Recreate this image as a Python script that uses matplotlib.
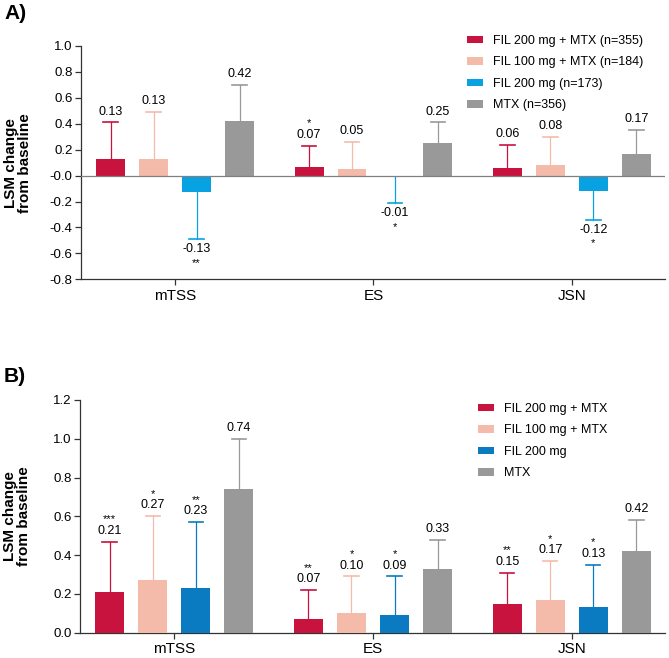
import matplotlib
matplotlib.use("Agg")
import matplotlib.pyplot as plt
from matplotlib.patches import Patch
import numpy as np

plt.rcParams['font.family'] = ['Liberation Sans', 'DejaVu Sans']
plt.rcParams['axes.unicode_minus'] = False

categories = ["mTSS", "ES", "JSN"]

# Panel A
labels_a = ["FIL 200 mg + MTX (n=355)", "FIL 100 mg + MTX (n=184)", "FIL 200 mg (n=173)", "MTX (n=356)"]
vals_a = [
    [0.13, 0.07, 0.06],
    [0.13, 0.05, 0.08],
    [-0.13, -0.01, -0.12],
    [0.42, 0.25, 0.17],
]
err_end_a = [
    [0.41, 0.23, 0.24],
    [0.49, 0.26, 0.30],
    [-0.49, -0.21, -0.34],
    [0.70, 0.41, 0.35],
]
stars_a = [
    ["", "*", ""],
    ["", "", ""],
    ["**", "*", "*"],
    ["", "", ""],
]

# Panel B
labels_b = ["FIL 200 mg + MTX", "FIL 100 mg + MTX", "FIL 200 mg", "MTX"]
vals_b = [
    [0.21, 0.07, 0.15],
    [0.27, 0.10, 0.17],
    [0.23, 0.09, 0.13],
    [0.74, 0.33, 0.42],
]
err_end_b = [
    [0.47, 0.22, 0.31],
    [0.60, 0.29, 0.37],
    [0.57, 0.29, 0.35],
    [1.00, 0.48, 0.58],
]
stars_b = [
    ["***", "**", "**"],
    ["*", "*", "*"],
    ["**", "*", "*"],
    ["", "", ""],
]

colors_a = ["#C8133E", "#F4BBAB", "#08A2E2", "#999999"]
colors_b = ["#C8133E", "#F4BBAB", "#0A7BC0", "#999999"]

W, H = 669, 658
fig = plt.figure(figsize=(W / 100, H / 100), dpi=100)

def fx(px):
    return px / W

def fy(py):
    return 1 - py / H

ax_a = fig.add_axes([fx(81), fy(279.3), fx(665) - fx(81), fy(46) - fy(279.3)])
ax_b = fig.add_axes([fx(80), fy(632.7), fx(665) - fx(80), fy(400) - fy(632.7)])

bar_w = 0.146
pitch = 0.2166
offsets = (np.arange(4) - 1.5) * pitch
xg = np.arange(len(categories))

def draw(ax, vals, ends, stars, colors, ylim, yticks, zero_line):
    for i in range(4):
        x = xg + offsets[i]
        v = np.array(vals[i])
        e = np.array(ends[i])
        ax.bar(x, v, width=bar_w, color=colors[i], zorder=3)
        for j in range(len(categories)):
            ax.plot([x[j], x[j]], [v[j], e[j]], color=colors[i], lw=0.9, zorder=2)
            ax.plot([x[j] - 0.036, x[j] + 0.036], [e[j], e[j]], color=colors[i], lw=1.2, zorder=2)
            txt = f"{v[j]:.2f}"
            if v[j] >= 0:
                ax.annotate(txt, (x[j], e[j]), xytext=(0, 3.5), textcoords="offset points",
                            ha="center", va="bottom", fontsize=9)
                if stars[i][j]:
                    ax.annotate(stars[i][j], (x[j], e[j]), xytext=(0, 12.5), textcoords="offset points",
                                ha="center", va="bottom", fontsize=8)
            else:
                ax.annotate(txt, (x[j], e[j]), xytext=(0, -3), textcoords="offset points",
                            ha="center", va="top", fontsize=9)
                if stars[i][j]:
                    ax.annotate(stars[i][j], (x[j], e[j]), xytext=(0, -13.5), textcoords="offset points",
                                ha="center", va="top", fontsize=8)
    ax.set_xlim(-0.474, 2.469)
    ax.set_ylim(*ylim)
    ax.set_yticks(yticks)
    ax.set_yticklabels([f"{t:.1f}" for t in yticks])
    ax.set_xticks(xg)
    ax.set_xticklabels(categories, fontsize=11)
    ax.spines['top'].set_visible(False)
    ax.spines['right'].set_visible(False)
    for s in ['left', 'bottom']:
        ax.spines[s].set_color('#333333')
        ax.spines[s].set_linewidth(0.9)
    ax.tick_params(axis='y', labelsize=9.5, length=4, width=0.9, color='#333333', pad=2)
    ax.tick_params(axis='x', length=4, width=0.9, color='#333333', pad=3)
    if zero_line:
        ax.axhline(0, color='#808080', lw=0.9, zorder=4)
    ax.set_ylabel("LSM change\nfrom baseline", fontsize=11, fontweight='bold', linespacing=0.95)
    ax.yaxis.set_label_coords(-0.084, 0.5)

draw(ax_a, vals_a, err_end_a, stars_a, colors_a, (-0.8, 1.0), np.round(np.arange(-0.8, 1.01, 0.2), 1), True)
draw(ax_b, vals_b, err_end_b, stars_b, colors_b, (0.0, 1.2), np.round(np.arange(0.0, 1.21, 0.2), 1), False)

def legend(ax, labels, colors, anchor):
    handles = [Patch(facecolor=c, edgecolor='none') for c in colors]
    ax.legend(handles, labels, loc='upper left', bbox_to_anchor=anchor, bbox_transform=fig.transFigure,
              frameon=False, fontsize=9, handlelength=1.28, handleheight=0.56, handletextpad=0.8,
              labelspacing=0.75, borderpad=0, borderaxespad=0)

legend(ax_a, labels_a, colors_a, (fx(467), fy(35)))
legend(ax_b, labels_b, colors_b, (fx(478), fy(403)))

fig.text(fx(4), fy(4), "A)", fontsize=15, fontweight='bold', ha='left', va='top')
fig.text(fx(4), fy(367), "B)", fontsize=15, fontweight='bold', ha='left', va='top')

fig.savefig("out.png", dpi=100)
